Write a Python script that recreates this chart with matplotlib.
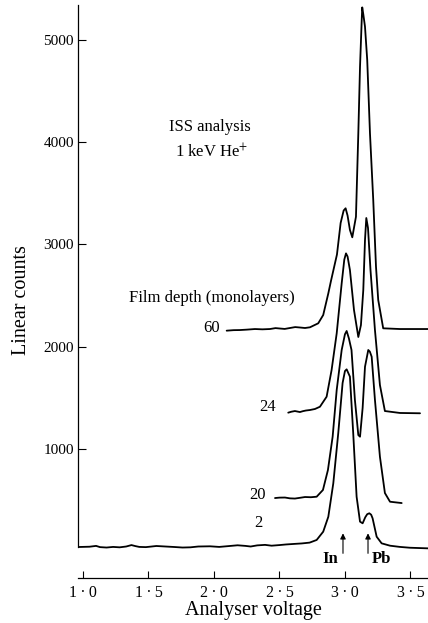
import matplotlib
matplotlib.use('Agg')
import matplotlib.pyplot as plt

plt.rcParams['font.family'] = ['Liberation Serif', 'DejaVu Serif']
plt.rcParams['mathtext.fontset'] = 'stix'

# ---- data: analyser voltage (V) and linear counts (with stacking offsets as drawn) ----
v_2 = [0.962, 1.05, 1.10, 1.13, 1.18, 1.23, 1.28, 1.33, 1.37, 1.40, 1.43, 1.48, 1.51, 1.56,
       1.63, 1.70, 1.76, 1.82, 1.88, 1.97, 2.04, 2.12, 2.18, 2.24, 2.28, 2.33, 2.39, 2.44,
       2.50, 2.55, 2.62, 2.67, 2.73, 2.784, 2.834, 2.873, 2.911, 2.949, 2.982, 3.000, 3.013,
       3.038, 3.063, 3.089, 3.115, 3.135, 3.155, 3.170, 3.186, 3.200, 3.211, 3.242, 3.280,
       3.344, 3.42, 3.496, 3.634]
c_2 = [39, 42, 50, 38, 34, 40, 36, 44, 58, 48, 40, 38, 42, 49,
       44, 39, 34, 36, 44, 46, 40, 49, 56, 50, 44, 55, 60, 52,
       58, 64, 70, 74, 82, 108, 189, 335, 662, 1154, 1643, 1760, 1777,
       1705, 1154, 531, 287, 271, 330, 360, 369, 355, 320, 140, 75,
       52, 40, 32, 26]

v_20 = [2.466, 2.50, 2.542, 2.58, 2.618, 2.66, 2.695, 2.74, 2.784, 2.832, 2.870, 2.906, 2.937,
        2.975, 3.000, 3.013, 3.030, 3.050, 3.076, 3.102, 3.115, 3.135, 3.153, 3.178, 3.190,
        3.204, 3.229, 3.267, 3.305, 3.344, 3.433]
c_20 = [518, 522, 523, 515, 513, 521, 528, 526, 531, 597, 792, 1118, 1575,
        1966, 2120, 2152, 2080, 1966, 1477, 1134, 1118, 1400, 1802, 1966, 1950,
        1900, 1477, 922, 567, 482, 469]

v_24 = [2.567, 2.59, 2.618, 2.656, 2.68, 2.702, 2.733, 2.771, 2.809, 2.860, 2.898, 2.937,
        2.975, 2.995, 3.008, 3.020, 3.038, 3.069, 3.102, 3.122, 3.140, 3.153, 3.163, 3.176,
        3.195, 3.229, 3.267, 3.305, 3.420, 3.573]
c_24 = [1353, 1362, 1369, 1359, 1368, 1374, 1379, 1389, 1411, 1509, 1770, 2129,
        2618, 2850, 2911, 2880, 2748, 2357, 2093, 2210, 2553, 3042, 3257, 3159,
        2748, 2161, 1623, 1369, 1350, 1347]

v_60 = [2.097, 2.15, 2.198, 2.25, 2.313, 2.37, 2.427, 2.47, 2.504, 2.54, 2.580, 2.62, 2.656,
        2.695, 2.733, 2.796, 2.834, 2.873, 2.893, 2.939, 2.967, 2.990, 3.005, 3.020, 3.038,
        3.056, 3.084, 3.102, 3.115, 3.128, 3.132, 3.140, 3.153, 3.170, 3.191, 3.216, 3.237,
        3.254, 3.292, 3.420, 3.634]
c_60 = [2155, 2160, 2161, 2165, 2171, 2168, 2171, 2180, 2176, 2172, 2181, 2190, 2186,
        2181, 2188, 2227, 2308, 2520, 2640, 2900, 3208, 3330, 3352, 3280, 3140,
        3068, 3269, 4085, 4736, 5193, 5317, 5250, 5128, 4802, 4085, 3433, 2780,
        2455, 2178, 2171, 2171]

depth_labels = ['2', '20', '24', '60']
series_v = [v_2, v_20, v_24, v_60]
series_c = [c_2, c_20, c_24, c_60]
label_pos = [(2.34, 270), (2.33, 545), (2.41, 1410), (1.985, 2181)]

peak_names = ['In', 'Pb']
peak_v = [2.985, 3.176]

x_ticks = [1.0, 1.5, 2.0, 2.5, 3.0, 3.5]
x_ticklabels = ['1\u2009·\u20090', '1\u2009·\u20095', '2\u2009·\u20090',
                '2\u2009·\u20095', '3\u2009·\u20090', '3\u2009·\u20095']
y_ticks = [1000, 2000, 3000, 4000, 5000]

# ---- figure ----
fig = plt.figure(figsize=(4.28, 6.23), dpi=100)
ax = fig.add_axes([78 / 428, 45 / 623, 350 / 428, 578 / 623])

for v, c in zip(series_v, series_c):
    ax.plot(v, c, color='black', lw=1.3, solid_joinstyle='round', solid_capstyle='round')

ax.set_xlim(0.962, 3.634)
ax.set_ylim(-264, 5389)

for s in ('top', 'right'):
    ax.spines[s].set_visible(False)
ax.spines['left'].set_bounds(40, 5340)
ax.spines['left'].set_linewidth(0.9)
ax.spines['bottom'].set_linewidth(0.9)

ax.set_xticks(x_ticks)
ax.set_xticklabels(x_ticklabels)
ax.set_yticks(y_ticks)
ax.tick_params(axis='x', direction='in', length=5, width=0.8, labelsize=11.5, pad=5)
ax.tick_params(axis='y', direction='in', length=6, width=0.8, labelsize=11, pad=3)

ax.set_xlabel('Analyser voltage', fontsize=14.5)
ax.xaxis.set_label_coords(0.5, -0.04)
ax.set_ylabel('Linear counts', fontsize=14.5)
ax.yaxis.set_label_coords(-0.135, 0.48)

ax.text(1.97, 4147, 'ISS analysis', fontsize=12, ha='center', va='center')
ax.text(1.985, 3902, '1 keV He$^{+}$', fontsize=12, ha='center', va='center')
ax.text(2.618, 2474, 'Film depth (monolayers)', fontsize=12, ha='right', va='center')

for lab, (lx, ly) in zip(depth_labels, label_pos):
    ax.text(lx, ly, lab, fontsize=12, ha='center', va='center')

for name, pv, dx in zip(peak_names, peak_v, [-0.10, 0.105]):
    ax.annotate('', xy=(pv, 200), xytext=(pv, -50),
                arrowprops=dict(arrowstyle='-|>', lw=0.8, color='black', mutation_scale=8))
    ax.text(pv + dx, -80, name, fontsize=12, ha='center', va='center', fontweight='bold')

fig.savefig('out.png', dpi=100)
